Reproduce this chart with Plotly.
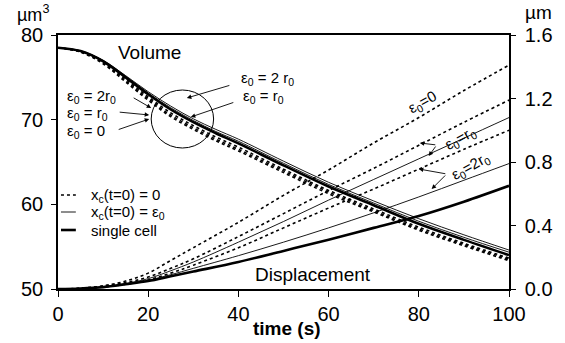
import plotly.graph_objects as go

# ---------------- data ----------------
t_vol = [0, 5, 10, 15, 20, 25, 30, 35, 40, 50, 60, 70, 80, 90, 100]
vol_single = [78.5, 78.1, 76.9, 75.0, 73.0, 71.2, 69.7, 68.4, 67.2, 64.6, 62.1, 59.9, 57.7, 55.8, 54.0]
vol_eps_2r0 = [78.5, 78.15, 77.0, 75.2, 73.3, 71.6, 70.1, 68.85, 67.7, 65.1, 62.6, 60.4, 58.3, 56.4, 54.6]
vol_eps_r0 = [78.5, 78.12, 76.95, 75.1, 73.15, 71.4, 69.9, 68.6, 67.45, 64.85, 62.35, 60.15, 58.0, 56.1, 54.35]
vol_x0_2r0 = [78.5, 78.05, 76.8, 74.8, 72.7, 70.8, 69.3, 67.95, 66.75, 64.15, 61.65, 59.45, 57.3, 55.4, 53.65]
vol_x0_r0 = [78.5, 78.0, 76.7, 74.6, 72.5, 70.55, 69.05, 67.7, 66.5, 63.95, 61.45, 59.25, 57.1, 55.25, 53.5]
vol_x0_0 = [78.5, 77.98, 76.6, 74.45, 72.3, 70.35, 68.85, 67.5, 66.3, 63.75, 61.25, 59.1, 56.95, 55.1, 53.35]

t_disp = [0, 5, 10, 15, 20, 25, 30, 40, 50, 60, 70, 80, 90, 100]
disp_x0_0 = [0, 0.005, 0.02, 0.05, 0.10, 0.18, 0.26, 0.42, 0.59, 0.75, 0.92, 1.08, 1.25, 1.41]
disp_x0_r0 = [0, 0.004, 0.017, 0.04, 0.075, 0.13, 0.19, 0.33, 0.475, 0.62, 0.76, 0.905, 1.05, 1.19]
disp_eps_r0 = [0, 0.004, 0.015, 0.035, 0.065, 0.115, 0.17, 0.295, 0.425, 0.56, 0.69, 0.82, 0.95, 1.08]
disp_x0_2r0 = [0, 0.003, 0.013, 0.03, 0.057, 0.10, 0.15, 0.26, 0.385, 0.51, 0.63, 0.755, 0.88, 1.0]
disp_eps_2r0 = [0, 0.003, 0.011, 0.028, 0.055, 0.09, 0.13, 0.21, 0.295, 0.385, 0.48, 0.58, 0.685, 0.79]
disp_single = [0, 0.003, 0.012, 0.03, 0.05, 0.08, 0.11, 0.17, 0.24, 0.31, 0.385, 0.46, 0.55, 0.65]

x_ticks = [0, 20, 40, 60, 80, 100]
y_ticks = [50, 60, 70, 80]
y2_ticks = [0.0, 0.4, 0.8, 1.2, 1.6]

# ---------------- layout helpers ----------------
L, R, T, B = 58, 513, 35, 289
W, H = R - L, B - T
FONT = "Arial, Liberation Sans, sans-serif"


def fx(px):
    return (px - L) / W


def fy(py):
    return (B - py) / H


fig = go.Figure()

DOT = dict(color="black", width=1.6, dash="dot")
THIN = dict(color="black", width=0.9)
THICK = dict(color="black", width=2.6)

for ys, ln in [(vol_x0_0, DOT), (vol_x0_r0, DOT), (vol_x0_2r0, DOT),
               (vol_eps_r0, THIN), (vol_eps_2r0, THIN), (vol_single, THICK)]:
    fig.add_trace(go.Scatter(x=t_vol, y=ys, mode="lines", line=dict(**ln, shape="spline"),
                             showlegend=False, yaxis="y"))

for ys, ln in [(disp_x0_0, DOT), (disp_x0_r0, DOT), (disp_x0_2r0, DOT),
               (disp_eps_r0, THIN), (disp_eps_2r0, THIN), (disp_single, THICK)]:
    fig.add_trace(go.Scatter(x=t_disp, y=ys, mode="lines", line=dict(**ln, shape="spline"),
                             showlegend=False, yaxis="y2"))

ann = []


def text(px, py, s, size=18, xanchor="center", angle=0, bold=False):
    ann.append(dict(x=fx(px), y=fy(py), xref="paper", yref="paper", text=("<b>%s</b>" % s) if bold else s,
                    showarrow=False, xanchor=xanchor, yanchor="middle", textangle=angle,
                    font=dict(family=FONT, size=size, color="black")))


def arrow(hx, hy, tx, ty):
    ann.append(dict(x=fx(hx), y=fy(hy), xref="paper", yref="paper", text="",
                    showarrow=True, ax=tx - hx, ay=ty - hy, axref="pixel", ayref="pixel",
                    arrowhead=2, arrowsize=1, arrowwidth=0.9, arrowcolor="black"))


# units and titles
text(33, 14, "µm<sup>3</sup>", size=18)
text(543, 13, "µm", size=19)
text(289, 328, "time (s)", size=19, bold=True)
text(150, 52, "Volume", size=19)
text(315, 274, "Displacement", size=19)

# left labels in the volume region
text(65, 96, "ε<sub>0</sub> = 2r<sub>0</sub>", size=15, xanchor="left")
text(65, 113, "ε<sub>0</sub> = r<sub>0</sub>", size=15, xanchor="left")
text(65, 131, "ε<sub>0</sub> = 0", size=15, xanchor="left")
arrow(152, 108, 133, 97)
arrow(150, 115, 119, 112)
arrow(150, 119, 118, 130)

text(269, 78, "ε<sub>0</sub> = 2 r<sub>0</sub>", size=15)
text(265, 96, "ε<sub>0</sub> = r<sub>0</sub>", size=15)
arrow(188, 98, 232, 85)
arrow(192, 117, 236, 102)

# displacement labels
text(426, 103, "ε<sub>0</sub>=0", size=15, angle=-29)
text(464, 138, "ε<sub>0</sub>=r<sub>0</sub>", size=15, angle=-29)
text(474, 166, "ε<sub>0</sub>=2r<sub>0</sub>", size=15, angle=-29)
arrow(423, 143, 440, 145)
arrow(432, 156, 440, 145)
arrow(422, 169, 450, 174)
arrow(435, 189, 450, 174)

# legend
leg = [(195, "x<sub>c</sub>(t=0) = 0", DOT), (212, "x<sub>c</sub>(t=0) = ε<sub>0</sub>", THIN),
       (230, "single cell", THICK)]
shapes = []
for py, s, ln in leg:
    text(89, py, s, size=15, xanchor="left")
    shapes.append(dict(type="line", xref="paper", yref="paper", x0=fx(61), x1=fx(76),
                       y0=fy(py), y1=fy(py), line=dict(color="black", width=ln["width"],
                                                       dash=ln.get("dash", "solid"))))

# magnifier circle
shapes.append(dict(type="circle", xref="paper", yref="paper", x0=fx(152), x1=fx(215),
                   y0=fy(148), y1=fy(90), line=dict(color="black", width=1)))

fig.update_layout(
    width=565, height=343, autosize=False,
    margin=dict(l=L, r=565 - R, t=T, b=343 - B),
    paper_bgcolor="white", plot_bgcolor="white",
    font=dict(family=FONT, size=20, color="black"),
    annotations=ann, shapes=shapes, showlegend=False,
    xaxis=dict(range=[0, 100], tickvals=x_ticks, showgrid=False, zeroline=False,
               showline=True, linecolor="black", linewidth=1.5, mirror=True,
               ticks="outside", ticklen=6, tickcolor="black", tickwidth=1,
               tickfont=dict(size=20)),
    yaxis=dict(range=[50, 80], tickvals=y_ticks, showgrid=False, zeroline=False,
               showline=True, linecolor="black", linewidth=1.5,
               ticks="outside", ticklen=5, tickcolor="black", tickwidth=1,
               ticklabelstandoff=4, tickfont=dict(size=20)),
    yaxis2=dict(range=[0, 1.6], tickvals=y2_ticks, tickformat=".1f", overlaying="y", side="right",
                showgrid=False, zeroline=False, showline=True, linecolor="black", linewidth=1.5,
                ticks="outside", ticklen=5, tickcolor="black", tickwidth=1,
                ticklabelstandoff=5, tickfont=dict(size=20)),
)

fig.write_html("out.html")
